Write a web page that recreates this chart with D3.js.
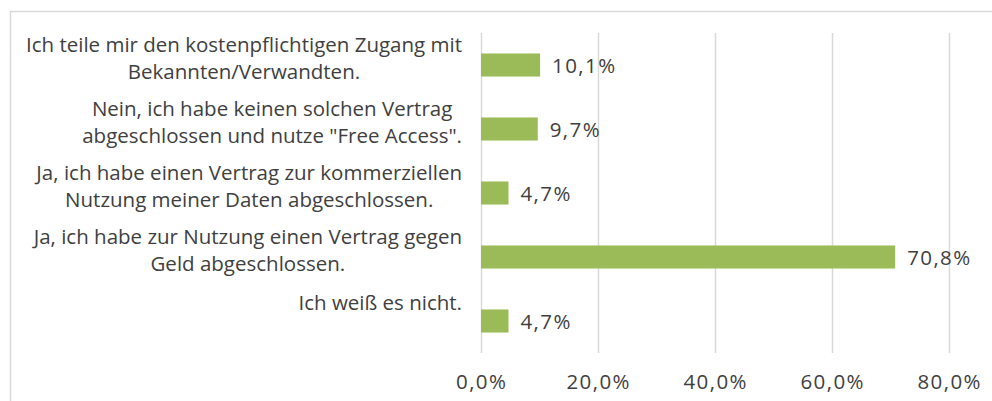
<!DOCTYPE html>
<html>
<head>
<meta charset="utf-8">
<script src="https://cdn.jsdelivr.net/npm/d3@7"></script>
<style>
  body { margin: 0; background: #fff; }
  svg text { font-family: "Open Sans", "Noto Sans", sans-serif; fill: #404040; }
</style>
</head>
<body>
<div id="my_dataviz"></div>
<script>
// categories (top to bottom), each split into its lines
var categories = [
  ["Ich teile mir den kostenpflichtigen Zugang mit", "Bekannten/Verwandten."],
  ["Nein, ich habe keinen solchen Vertrag", "abgeschlossen und nutze \"Free Access\"."],
  ["Ja, ich habe einen Vertrag zur kommerziellen", "Nutzung meiner Daten abgeschlossen."],
  ["Ja, ich habe zur Nutzung einen Vertrag gegen", "Geld abgeschlossen."],
  ["Ich weiß es nicht."]
];
var values = [10.1, 9.7, 4.7, 70.8, 4.7];
var ticks = [0, 20, 40, 60, 80];

var fmt = function(v) { return v.toFixed(1).replace(".", ",") + "%"; };

var W = 992, H = 401;
var svg = d3.select("#my_dataviz")
  .append("svg")
  .attr("width", W)
  .attr("height", H);

// chart border (runs off the right and bottom edges)
svg.append("rect")
  .attr("x", 10.5).attr("y", 11.5)
  .attr("width", 1000).attr("height", 420)
  .attr("fill", "none")
  .attr("stroke", "#d9d9d9")
  .attr("stroke-width", 1.5);

var x = d3.scaleLinear()
  .domain([0, 80])
  .range([481, 949]);

var y = d3.scaleBand()
  .domain(d3.range(values.length))
  .range([33, 353])
  .paddingInner(0.64)
  .paddingOuter(0.32);

// gridlines
svg.append("g")
  .selectAll("line")
  .data(ticks)
  .enter()
  .append("line")
  .attr("x1", function(d) { return Math.round(x(d)) + 0.5; })
  .attr("x2", function(d) { return Math.round(x(d)) + 0.5; })
  .attr("y1", 33).attr("y2", 353)
  .attr("stroke", "#d9d9d9")
  .attr("stroke-width", 1.5);

// x axis labels
svg.append("g")
  .selectAll("text")
  .data(ticks)
  .enter()
  .append("text")
  .attr("x", function(d) { return x(d) + 0.7; })
  .attr("y", 389)
  .attr("text-anchor", "middle")
  .style("font-size", "20.5px")
  .style("letter-spacing", "1.4px")
  .text(fmt);

// bars
svg.append("g")
  .selectAll("rect")
  .data(values)
  .enter()
  .append("rect")
  .attr("x", x(0))
  .attr("y", function(d, i) { return y(i); })
  .attr("width", function(d) { return x(d) - x(0); })
  .attr("height", y.bandwidth())
  .attr("fill", "#9bbb59");

// value labels
svg.append("g")
  .selectAll("text")
  .data(values)
  .enter()
  .append("text")
  .attr("x", function(d) { return x(d) + 12; })
  .attr("y", function(d, i) { return y(i) + y.bandwidth() / 2 + 8; })
  .style("font-size", "20.5px")
  .style("letter-spacing", "1.4px")
  .text(fmt);

// category labels: block right-aligned, lines centered inside
var right = 462;
var lab = svg.append("g");
categories.forEach(function(lines, i) {
  var cy = y(i) + y.bandwidth() / 2;
  var g = lab.append("g");
  var ts = g.selectAll("text")
    .data(lines)
    .enter()
    .append("text")
    .attr("text-anchor", "middle")
    .style("font-size", "20.5px")
    .attr("y", function(d, j) {
      return lines.length > 1 ? cy - 13 + j * 26.5 : cy - 11;
    })
    .text(function(d) { return d; });
  var maxW = 0;
  ts.each(function() { maxW = Math.max(maxW, this.getComputedTextLength()); });
  ts.attr("x", right - maxW / 2);
});
</script>
</body>
</html>
